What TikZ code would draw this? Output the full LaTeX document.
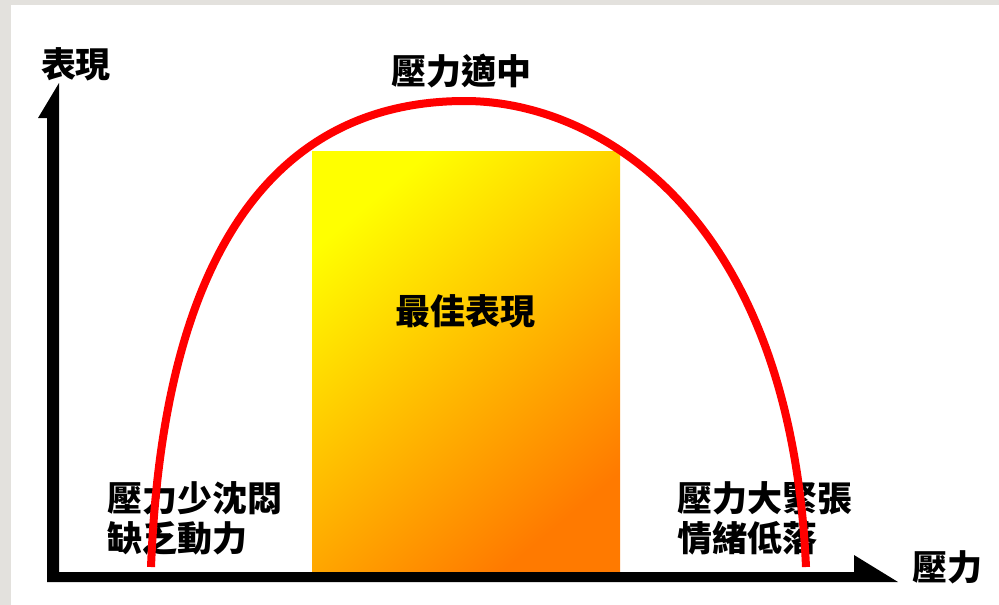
\documentclass[tikz,border=0pt]{standalone}
\usepackage{fontspec}
\newfontfamily\cjk{Noto Sans CJK TC}
\definecolor{bggray}{RGB}{227,225,221}
\definecolor{ylw}{RGB}{255,255,0}
\definecolor{org}{RGB}{255,122,0}
\definecolor{curvered}{RGB}{255,0,0}
\tikzset{
  lbl/.style={font=\cjk\bfseries\fontsize{35}{40}\selectfont, inner sep=0pt, text=black},
  curve/.style={draw=curvered, line width=8pt, line cap=butt},
  axisfill/.style={fill=black},
}
\begin{document}
\begin{tikzpicture}[x=1pt,y=-1pt]
\useasboundingbox (0,0) rectangle (999,605);
\fill[white] (0,0) rectangle (999,605);
\fill[bggray] (0,0) rectangle (999,5);
\fill[bggray] (0,0) rectangle (11,605);
% best-performance zone
\fill[top color=ylw, bottom color=org, shading angle=40] (312,151) rectangle (620,572);
% labels
\node[lbl] (yl) at (76,64) {表現};
\node[lbl] (title) at (461,71) {壓力適中};
\node[lbl] (best) at (465,311) {最佳表現};
\node[lbl] (xl) at (947,567) {壓力};
\node[lbl, anchor=west, align=left] (low) at (107,518) {壓力少沈悶\\缺乏動力};
\node[lbl, anchor=west, align=left] (high) at (677,518) {壓力大緊張\\情緒低落};
% curve
\coordinate (c0) at (151,567);
\coordinate (ctop) at (465,101);
\coordinate (c1) at (806,567);
\draw[curve] (c0) .. controls (166,190) and (320,101) .. (ctop)
  .. controls (595,101) and (790,210) .. (c1);
% axes with half arrowheads
\coordinate (origin) at (47,582);
\coordinate (ytip) at (59,83);
\coordinate (xtip) at (898,582);
\fill[axisfill] (origin) -- (47,118) -- (38,118) -- (ytip) -- (59,572)
  -- (854,572) -- (854,555) -- (xtip) -- cycle;
\end{tikzpicture}
\end{document}
